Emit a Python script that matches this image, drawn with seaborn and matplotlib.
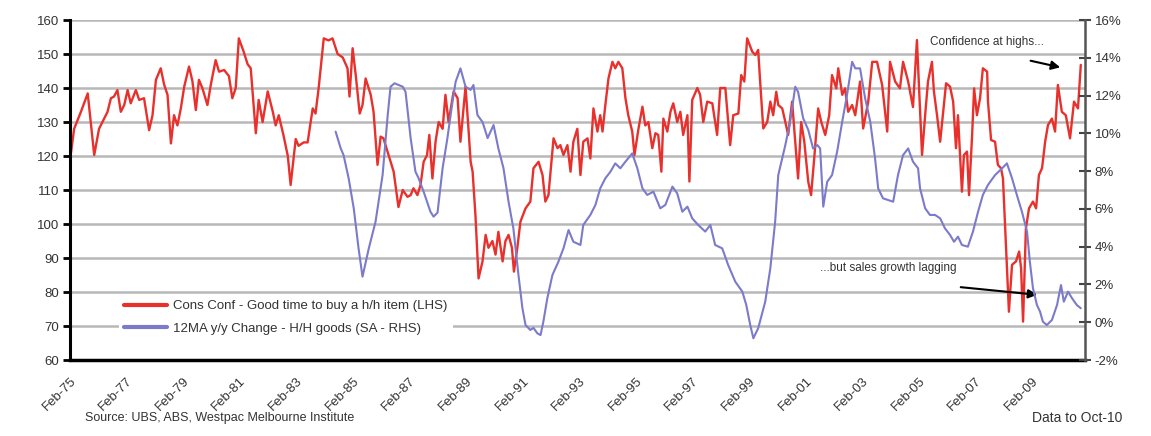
import matplotlib
matplotlib.use("Agg")
import matplotlib.pyplot as plt
import seaborn as sns
import pandas as pd
import numpy as np

# Consumer confidence: "Good time to buy a household item" (LHS index)
conf_year = [
    1975.12, 1975.23, 1975.47, 1975.71, 1975.94, 1976.11, 1976.29, 1976.41, 1976.53, 1976.64,
    1976.76, 1976.88, 1977.00, 1977.12, 1977.23, 1977.41, 1977.53, 1977.70, 1977.88, 1978.00,
    1978.12, 1978.29, 1978.41, 1978.53, 1978.65, 1978.76, 1978.88, 1979.00, 1979.12, 1979.29,
    1979.41, 1979.53, 1979.64, 1979.76, 1979.94, 1980.06, 1980.23, 1980.35, 1980.53, 1980.70,
    1980.82, 1980.94, 1981.05, 1981.22, 1981.36, 1981.47, 1981.58, 1981.65, 1981.75, 1981.89,
    1982.07, 1982.25, 1982.35, 1982.46, 1982.63, 1982.78, 1982.88, 1983.06, 1983.16, 1983.34,
    1983.48, 1983.66, 1983.76, 1983.87, 1984.05, 1984.22, 1984.36, 1984.54, 1984.72, 1984.89,
    1984.96, 1985.07, 1985.18, 1985.32, 1985.42, 1985.53, 1985.71, 1985.81, 1985.95, 1986.06,
    1986.16, 1986.34, 1986.52, 1986.69, 1986.84, 1987.01, 1987.12, 1987.22, 1987.36, 1987.47,
    1987.58, 1987.70, 1987.78, 1987.89, 1988.00, 1988.11, 1988.25, 1988.35, 1988.46, 1988.64,
    1988.78, 1988.88, 1989.06, 1989.17, 1989.24, 1989.31, 1989.41, 1989.52, 1989.66, 1989.77,
    1989.87, 1990.01, 1990.12, 1990.22, 1990.37, 1990.47, 1990.58, 1990.70, 1990.77, 1990.89,
    1991.00, 1991.18, 1991.35, 1991.46, 1991.64, 1991.78, 1991.88, 1991.99, 1992.17, 1992.31,
    1992.41, 1992.52, 1992.66, 1992.77, 1992.87, 1993.01, 1993.12, 1993.22, 1993.37, 1993.47,
    1993.58, 1993.72, 1993.82, 1993.90, 1994.00, 1994.11, 1994.25, 1994.35, 1994.46, 1994.60,
    1994.71, 1994.81, 1994.95, 1995.03, 1995.17, 1995.31, 1995.41, 1995.52, 1995.66, 1995.77,
    1995.87, 1995.98, 1996.05, 1996.19, 1996.30, 1996.40, 1996.54, 1996.65, 1996.75, 1996.90,
    1996.97, 1997.07, 1997.25, 1997.35, 1997.46, 1997.60, 1997.78, 1997.95, 1998.06, 1998.24,
    1998.41, 1998.52, 1998.70, 1998.80, 1998.91, 1999.01, 1999.19, 1999.30, 1999.40, 1999.47,
    1999.58, 1999.72, 1999.83, 1999.93, 2000.04, 2000.11, 2000.25, 2000.36, 2000.46, 2000.60,
    2000.71, 2000.81, 2000.92, 2001.03, 2001.17, 2001.27, 2001.38, 2001.52, 2001.63, 2001.77,
    2001.91, 2002.01, 2002.16, 2002.23, 2002.37, 2002.47, 2002.58, 2002.72, 2002.83, 2003.00,
    2003.11, 2003.29, 2003.43, 2003.60, 2003.78, 2003.96, 2004.06, 2004.24, 2004.41, 2004.52,
    2004.70, 2004.87, 2005.01, 2005.19, 2005.30, 2005.40, 2005.54, 2005.61, 2005.72, 2005.83,
    2005.90, 2006.04, 2006.18, 2006.29, 2006.39, 2006.46, 2006.60, 2006.67, 2006.78, 2006.85,
    2006.96, 2007.03, 2007.13, 2007.24, 2007.34, 2007.49, 2007.52, 2007.63, 2007.77, 2007.87,
    2007.98, 2008.05, 2008.16, 2008.26, 2008.37, 2008.51, 2008.62, 2008.69, 2008.76, 2008.86,
    2008.97, 2009.11, 2009.22, 2009.32, 2009.43, 2009.54, 2009.64, 2009.78, 2009.89, 2009.99,
    2010.13, 2010.27, 2010.42, 2010.56, 2010.70, 2010.80,
]
conf_value = [
    121.0, 128.0, 133.0, 138.4, 120.3, 128.0, 131.0, 133.0, 137.0, 137.5,
    139.4, 133.0, 135.0, 139.4, 135.5, 139.4, 136.5, 137.0, 127.6, 132.0,
    142.4, 145.8, 141.0, 138.0, 123.7, 132.0, 129.0, 134.0, 140.4, 146.3,
    142.0, 133.5, 142.4, 140.0, 135.0, 141.0, 148.2, 144.8, 145.3, 143.5,
    137.0, 140.0, 154.6, 150.7, 147.0, 145.8, 134.0, 126.7, 136.5, 130.0,
    139.0, 133.0, 129.0, 132.0, 126.0, 120.0, 111.5, 125.0, 123.0, 124.0,
    124.0, 134.0, 132.5, 140.0, 154.6, 154.0, 154.6, 150.0, 149.0, 145.8,
    137.5, 151.7, 143.8, 132.5, 135.0, 142.8, 138.0, 133.0, 117.4, 125.7,
    125.2, 120.3, 115.4, 105.0, 110.0, 108.0, 108.5, 110.5, 108.5, 111.5,
    118.3, 120.3, 126.2, 113.4, 124.2, 130.0, 128.0, 138.0, 130.0, 139.0,
    137.0, 124.2, 140.4, 127.2, 118.3, 115.4, 102.6, 84.0, 89.0, 96.8,
    93.0, 95.0, 91.0, 97.7, 89.0, 95.0, 96.8, 93.0, 86.0, 93.0,
    100.7, 104.6, 106.6, 116.4, 118.3, 114.4, 106.6, 108.5, 125.2, 122.3,
    123.2, 120.3, 123.2, 115.4, 124.2, 128.0, 114.4, 124.2, 125.2, 119.3,
    134.0, 127.2, 132.0, 127.2, 135.0, 142.8, 147.7, 145.8, 147.7, 145.8,
    137.0, 132.0, 127.2, 120.3, 128.0, 134.5, 129.0, 130.0, 122.3, 126.7,
    126.2, 115.4, 131.0, 127.2, 133.0, 135.5, 130.0, 133.0, 126.2, 132.0,
    112.5, 136.5, 140.0, 138.0, 130.0, 136.0, 135.5, 126.2, 140.0, 140.0,
    123.2, 132.0, 132.5, 143.8, 141.9, 154.6, 150.7, 149.7, 151.2, 141.9,
    128.1, 130.0, 136.0, 132.0, 138.9, 135.0, 134.0, 130.0, 126.2, 136.0,
    124.2, 113.4, 130.0, 124.2, 112.4, 108.5, 119.3, 134.0, 130.0, 126.2,
    132.0, 143.8, 139.9, 145.8, 138.0, 139.9, 133.0, 135.0, 132.0, 141.9,
    128.1, 136.0, 147.7, 147.7, 140.9, 127.2, 147.7, 141.9, 139.9, 147.7,
    141.9, 134.4, 154.1, 120.3, 132.0, 141.9, 147.7, 139.0, 132.0, 124.2,
    130.0, 141.4, 140.4, 136.0, 122.3, 132.0, 109.5, 120.3, 121.3, 108.5,
    126.2, 139.9, 132.0, 137.0, 145.8, 144.8, 136.0, 124.7, 124.2, 117.4,
    116.4, 113.4, 92.8, 74.2, 88.0, 89.0, 91.9, 87.0, 71.3, 98.7,
    104.6, 106.6, 104.6, 114.4, 116.4, 124.2, 129.1, 131.0, 127.2, 140.9,
    133.0, 132.0, 125.2, 136.0, 134.0, 146.8,
]

# Household goods retail sales, 12-month average, y/y change (RHS, %)
sales_year = [
    1984.47, 1984.65, 1984.75, 1984.93, 1985.11, 1985.28, 1985.42, 1985.64, 1985.88, 1986.13,
    1986.31, 1986.41, 1986.55, 1986.84, 1986.94, 1987.12, 1987.29, 1987.40, 1987.58, 1987.82,
    1987.93, 1988.07, 1988.25, 1988.42, 1988.60, 1988.71, 1988.88, 1989.06, 1989.24, 1989.34,
    1989.48, 1989.66, 1989.84, 1990.05, 1990.22, 1990.40, 1990.58, 1990.75, 1990.93, 1991.07,
    1991.18, 1991.35, 1991.46, 1991.60, 1991.71, 1991.81, 1991.95, 1992.13, 1992.34, 1992.52,
    1992.70, 1992.87, 1993.12, 1993.22, 1993.47, 1993.65, 1993.82, 1994.00, 1994.18, 1994.35,
    1994.53, 1994.71, 1994.95, 1995.13, 1995.31, 1995.48, 1995.70, 1995.94, 1996.12, 1996.37,
    1996.54, 1996.72, 1996.90, 1997.07, 1997.28, 1997.53, 1997.71, 1997.88, 1998.13, 1998.34,
    1998.59, 1998.84, 1998.98, 1999.12, 1999.23, 1999.40, 1999.65, 1999.83, 2000.00, 2000.11,
    2000.25, 2000.36, 2000.53, 2000.71, 2000.81, 2000.99, 2001.17, 2001.34, 2001.49, 2001.59,
    2001.70, 2001.84, 2002.01, 2002.19, 2002.37, 2002.54, 2002.72, 2002.83, 2003.00, 2003.18,
    2003.36, 2003.53, 2003.64, 2003.81, 2003.99, 2004.17, 2004.34, 2004.52, 2004.70, 2004.87,
    2005.05, 2005.12, 2005.30, 2005.47, 2005.65, 2005.83, 2006.00, 2006.18, 2006.32, 2006.46,
    2006.60, 2006.81, 2006.99, 2007.17, 2007.34, 2007.52, 2007.77, 2008.02, 2008.19, 2008.37,
    2008.54, 2008.72, 2008.90, 2009.00, 2009.11, 2009.25, 2009.36, 2009.46, 2009.60, 2009.78,
    2009.96, 2010.10, 2010.20, 2010.35, 2010.49, 2010.66, 2010.80,
]
sales_value = [
    10.09, 9.20, 8.85, 7.62, 6.03, 3.91, 2.41, 3.90, 5.32, 7.80,
    10.97, 12.47, 12.65, 12.47, 12.20, 9.75, 7.97, 7.63, 6.91, 5.85,
    5.59, 5.80, 8.16, 9.75, 11.68, 12.73, 13.44, 12.47, 12.30, 12.56,
    10.97, 10.60, 9.75, 10.44, 9.20, 8.16, 6.38, 4.97, 2.50, 0.74,
    -0.15, -0.41, -0.30, -0.59, -0.68, 0.03, 1.27, 2.50, 3.20, 3.91,
    4.88, 4.26, 4.09, 5.15, 5.68, 6.21, 7.09, 7.62, 7.97, 8.41,
    8.15, 8.50, 8.94, 8.15, 7.09, 6.74, 6.91, 6.03, 6.21, 7.18,
    6.82, 5.85, 6.12, 5.50, 5.15, 4.80, 5.15, 4.09, 3.91, 3.03,
    2.15, 1.62, 0.91, -0.15, -0.85, -0.32, 1.09, 2.86, 5.32, 7.79,
    8.68, 9.38, 10.62, 12.47, 12.20, 10.80, 10.18, 9.20, 9.38, 9.20,
    6.12, 7.44, 7.79, 9.03, 10.62, 12.03, 13.79, 13.44, 13.44, 11.85,
    10.62, 8.68, 7.09, 6.56, 6.47, 6.38, 7.79, 8.85, 9.20, 8.50,
    8.15, 7.09, 6.03, 5.68, 5.68, 5.50, 4.97, 4.62, 4.26, 4.53,
    4.09, 4.00, 4.80, 5.85, 6.74, 7.27, 7.79, 8.15, 8.41, 7.62,
    6.74, 5.85, 4.80, 3.20, 1.80, 0.91, 0.56, 0.03, -0.15, 0.12,
    0.91, 1.97, 1.09, 1.62, 1.27, 0.91, 0.74,
]

# Axis scales and tick labels
left_ticks = list(range(60, 161, 10))
right_ticks = list(range(-2, 17, 2))
date_ticks = [1975 + 1 / 12 + 2 * k for k in range(18)]
date_labels = ["Feb-%02d" % ((75 + 2 * k) % 100) for k in range(18)]

conf_label = "Cons Conf - Good time to buy a h/h item (LHS)"
sales_label = "12MA y/y Change - H/H goods (SA - RHS)"

RED = "#e8302c"
BLUE = "#7b7acb"
TXT = "#333333"

sns.set_style("white")
plt.rcParams["font.family"] = ["Liberation Sans", "DejaVu Sans"]

fig = plt.figure(figsize=(11.51, 4.36), dpi=100)
ax = fig.add_axes([0.0608, 0.1743, 0.8819, 0.7798])
ax2 = ax.twinx()

conf_df = pd.DataFrame({"year": conf_year, "value": conf_value})
sales_df = pd.DataFrame({"year": sales_year, "value": sales_value})

sns.lineplot(data=conf_df, x="year", y="value", ax=ax, color=RED, lw=1.7,
             estimator=None, sort=False, label=conf_label, legend=False)
sns.lineplot(data=sales_df, x="year", y="value", ax=ax2, color=BLUE, lw=1.5,
             estimator=None, sort=False, label=sales_label, legend=False)

# Left axis
ax.set_ylim(60, 160)
ax.set_yticks(left_ticks)
ax.set_yticklabels([str(t) for t in left_ticks], fontsize=9.5, color=TXT)
ax.yaxis.grid(True, color="#b8b8b8", lw=1.8)
ax.set_axisbelow(True)
ax.set_xlim(1975 + 1 / 12, 2010.95)
ax.set_xticks(date_ticks)
ax.set_xticklabels(date_labels, rotation=45, ha="right", rotation_mode="anchor",
                   fontsize=9.5, color=TXT)
ax.set_xlabel("")
ax.set_ylabel("")
ax.tick_params(axis="y", direction="out", length=5, width=2, color="black", pad=3)
ax.tick_params(axis="x", direction="out", length=4, width=2, color="black", pad=7)

# Right axis
ax2.set_ylim(-2, 16)
ax2.set_yticks(right_ticks)
ax2.set_yticklabels(["%d%%" % t for t in right_ticks], fontsize=9.5, color=TXT)
ax2.set_ylabel("")
ax2.tick_params(axis="y", direction="inout", length=8, width=1.5, color="#444444", pad=3)

for a in (ax, ax2):
    a.spines["top"].set_visible(False)
ax.spines["left"].set_color("black")
ax.spines["left"].set_linewidth(2.2)
ax.spines["bottom"].set_color("black")
ax.spines["bottom"].set_linewidth(2.5)
ax2.spines["left"].set_visible(False)
ax2.spines["bottom"].set_visible(False)
ax2.spines["right"].set_color("#555555")
ax2.spines["right"].set_linewidth(1.8)
ax.spines["right"].set_visible(False)

# Legend with a plain white box
h1, l1 = ax.get_legend_handles_labels()
h2, l2 = ax2.get_legend_handles_labels()
leg = ax2.legend(h1 + h2, l1 + l2, loc="lower left", bbox_to_anchor=(0.042, 0.04),
                 frameon=True, fancybox=False, edgecolor="none", facecolor="white",
                 framealpha=1.0, fontsize=9.5, handlelength=3.2, handletextpad=0.5,
                 labelspacing=0.75, borderpad=0.4)
for t in leg.get_texts():
    t.set_color(TXT)
for ln in leg.get_lines():
    ln.set_linewidth(3)

# Annotations
ax.annotate("", xy=(2010.17, 145.9), xytext=(2008.93, 148.2),
            arrowprops=dict(arrowstyle="-|>", color="black", lw=1.5, mutation_scale=13))
ax.text(2005.47, 153.5, "Confidence at highs...", fontsize=8.5, color=TXT,
        ha="left", va="center")
ax.annotate("", xy=(2009.36, 79.1), xytext=(2006.46, 81.5),
            arrowprops=dict(arrowstyle="-|>", color="black", lw=1.5, mutation_scale=13))
ax.text(2001.59, 87.1, "...but sales growth lagging", fontsize=8.5, color=TXT,
        ha="left", va="center")

fig.text(0.074, 0.041, "Source: UBS, ABS, Westpac Melbourne Institute", fontsize=9,
         color=TXT, ha="left", va="center")
fig.text(0.975, 0.041, "Data to Oct-10", fontsize=10, color=TXT, ha="right", va="center")

fig.savefig("out.png", dpi=100, facecolor="white")
